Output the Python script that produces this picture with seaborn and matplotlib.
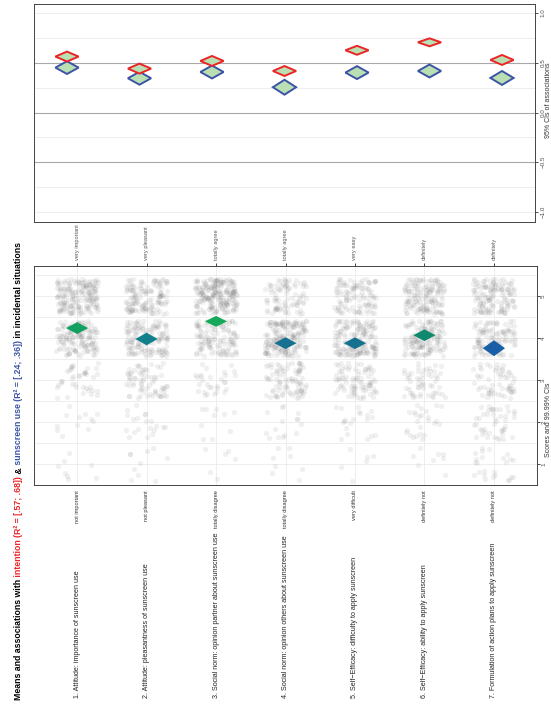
import numpy as np
import pandas as pd
import matplotlib.pyplot as plt
import matplotlib.transforms as mtransforms
import seaborn as sns

# item texts and scale anchors
items = [
    '1. Attitude: importance of sunscreen use',
    '2. Attitude: pleasantness of sunscreen use',
    '3. Social norm: opinion partner about sunscreen use',
    '4. Social norm: opinion others about sunscreen use',
    '5. Self\u2212Efficacy: difficulty to apply sunscreen',
    '6. Self\u2212Efficacy: ability to apply sunscreen',
    '7. Formulation of action plans to apply sunscreen',
]
anchor_low = ['not important', 'not pleasant', 'totally disagree', 'totally disagree',
              'very difficult', 'definitely not', 'definitely not']
anchor_high = ['very important', 'very pleasant', 'totally agree', 'totally agree',
               'very easy', 'definitely', 'definitely']

# response counts per item for answers 1..5 (estimated)
counts_1 = [8, 12, 40, 140, 180]
counts_2 = [10, 20, 70, 140, 140]
counts_3 = [6, 10, 30, 120, 214]
counts_4 = [8, 15, 90, 180, 87]
counts_5 = [6, 20, 85, 160, 109]
counts_6 = [8, 25, 55, 140, 152]
counts_7 = [25, 45, 60, 110, 140]

# means and 99.99% CI half widths
means = [4.24, 3.98, 4.40, 3.88, 3.88, 4.07, 3.76]
mean_ci = [0.14, 0.15, 0.13, 0.14, 0.14, 0.14, 0.19]
mean_colors = ['#12a060', '#11808c', '#17a95b', '#15718f', '#15718f', '#108a6f', '#1a5fa6']

# associations (95% CIs)
int_r = [0.562, 0.441, 0.518, 0.417, 0.625, 0.705, 0.528]
int_lo = [0.512, 0.391, 0.468, 0.367, 0.580, 0.665, 0.478]
int_hi = [0.612, 0.491, 0.568, 0.467, 0.670, 0.745, 0.578]
use_r = [0.451, 0.344, 0.407, 0.254, 0.401, 0.417, 0.347]
use_lo = [0.387, 0.279, 0.342, 0.179, 0.336, 0.352, 0.277]
use_hi = [0.515, 0.409, 0.472, 0.329, 0.466, 0.482, 0.417]

all_counts = [counts_1, counts_2, counts_3, counts_4, counts_5, counts_6, counts_7]

rows = []
for i, cnts in enumerate(all_counts):
    for score, n in enumerate(cnts, start=1):
        rows += [(items[i], score)] * n
df = pd.DataFrame(rows, columns=['item', 'score'])
# vertical jitter like geom_jitter
rng = np.random.default_rng(3)
df['jscore'] = df['score'] + rng.uniform(-0.42, 0.42, len(df))

sns.set_style('white')
plt.rcParams['font.family'] = ['Liberation Sans', 'DejaVu Sans']

fig = plt.figure(figsize=(5.51, 7.11), dpi=100)
W, H = 551, 711
ax1 = fig.add_axes([34 / W, 1 - 222 / H, 501 / W, 218 / H])
ax2 = fig.add_axes([34 / W, 1 - 485 / H, 503 / W, 219 / H])

grid_c = '#ebebeb'
tick_c = '#4d4d4d'

# ---------- scores panel ----------
sns.stripplot(data=df, x='item', y='jscore', order=items, jitter=0.3,
              color='#606060', alpha=0.09, size=3.8, linewidth=0, ax=ax2, zorder=2)
for y in np.arange(0.5, 6.0, 0.5):
    ax2.axhline(y, color=grid_c, lw=0.6, zorder=0)
for x in range(7):
    ax2.axvline(x, color=grid_c, lw=0.6, zorder=0)
hw = 0.16
for x in range(7):
    m, c = means[x], mean_ci[x]
    ax2.fill([x - hw, x, x + hw, x], [m, m + c, m, m - c], color=mean_colors[x],
             lw=0, zorder=4)
ax2.set_xlim(-0.62, 6.62)
ax2.set_ylim(0.5, 5.72)
ax2.yaxis.tick_right()
ax2.set_yticks([1, 2, 3, 4, 5])
ax2.set_yticklabels(['1', '2', '3', '4', '5'], rotation=90, va='center', ha='left')
ax2.set_xticks(range(7))
ax2.set_xticklabels(anchor_low, rotation=90, fontsize=4.1, color='#555555')
ax2.set_xlabel('')
ax2.set_ylabel('')
sec = ax2.secondary_xaxis('top')
sec.set_xticks(range(7))
sec.set_xticklabels(anchor_high, rotation=90, fontsize=4.1, color='#555555')
sec.tick_params(length=2.5, width=0.6, pad=1.5)
for s in sec.spines.values():
    s.set_visible(False)
ax2.tick_params(axis='x', length=2.5, width=0.6, pad=1.5)
ax2.tick_params(axis='y', length=2, width=0.6, labelsize=4.5, labelcolor=tick_c, pad=1)
ax2.text(548.3 / W, 1 - 420 / H, 'Scores and 99.99% CIs', transform=fig.transFigure,
         rotation=90, ha='center', va='center', fontsize=5, color='#333333')

# ---------- associations panel ----------
for y in [-1, -0.75, -0.25, 0.25, 0.75, 1]:
    ax1.axhline(y, color=grid_c, lw=0.6, zorder=0)
for y in [-0.5, 0, 0.5]:
    ax1.axhline(y, color='#a8a8a8', lw=0.8, zorder=1)
fill_c = '#b9dfb3'
for x in range(7):
    ax1.fill([x - hw, x, x + hw, x], [use_r[x], use_hi[x], use_r[x], use_lo[x]],
             facecolor=fill_c, edgecolor='#3b54a6', lw=1.4, zorder=3, joinstyle='miter')
    ax1.fill([x - hw, x, x + hw, x], [int_r[x], int_hi[x], int_r[x], int_lo[x]],
             facecolor=fill_c, edgecolor='#ec2426', lw=1.4, zorder=4, joinstyle='miter')
ax1.set_xlim(-0.455, 6.455)
ax1.set_ylim(-1.1, 1.09)
ax1.set_xticks([])
ax1.yaxis.tick_right()
ax1.set_yticks([-1, -0.5, 0, 0.5, 1])
ax1.set_yticklabels(['\u22121.0', '\u22120.5', '0.0', '0.5', '1.0'], rotation=90,
                    va='center', ha='left')
ax1.tick_params(axis='y', length=2.5, width=0.6, labelsize=4.5, labelcolor=tick_c, pad=1.5)
ax1.text(548.3 / W, 1 - 100 / H, '95% CIs of associations', transform=fig.transFigure,
         rotation=90, ha='center', va='center', fontsize=5, color='#333333')

for ax in (ax1, ax2):
    for s in ax.spines.values():
        s.set_color('#444444')
        s.set_linewidth(0.7)
    ax.tick_params(colors='#333333', which='both')
ax2.tick_params(axis='y', labelcolor=tick_c)
ax1.tick_params(axis='y', labelcolor=tick_c)

# item labels below the scores panel
trans = mtransforms.blended_transform_factory(ax2.transData, fig.transFigure)
for x, lab in enumerate(items):
    ax2.text(x, 1 - 698 / H, lab, transform=trans, rotation=90, ha='center',
             va='bottom', fontsize=5.1, color='#222222')

# multi-coloured rotated title
pieces = [('Means and associations with', 'black'),
          (' intention (R\u00b2 = [.57; .68])', '#ec2426'),
          (' &', 'black'),
          (' sunscreen use (R\u00b2 = [.24; .36])', '#3b54a6'),
          (' in incidental situations', 'black')]
t = fig.text(19 / W, 1 - 700 / H, pieces[0][0], rotation=90, ha='center', va='bottom',
             fontsize=6.35, fontweight='bold', color=pieces[0][1])
for txt, col in pieces[1:]:
    t = fig.add_artist(plt.Annotation(txt, xy=(0.5, 1), xycoords=t, rotation=90,
                                      ha='center', va='bottom', fontsize=6.35,
                                      fontweight='bold', color=col))

fig.savefig('out.png', dpi=100)
